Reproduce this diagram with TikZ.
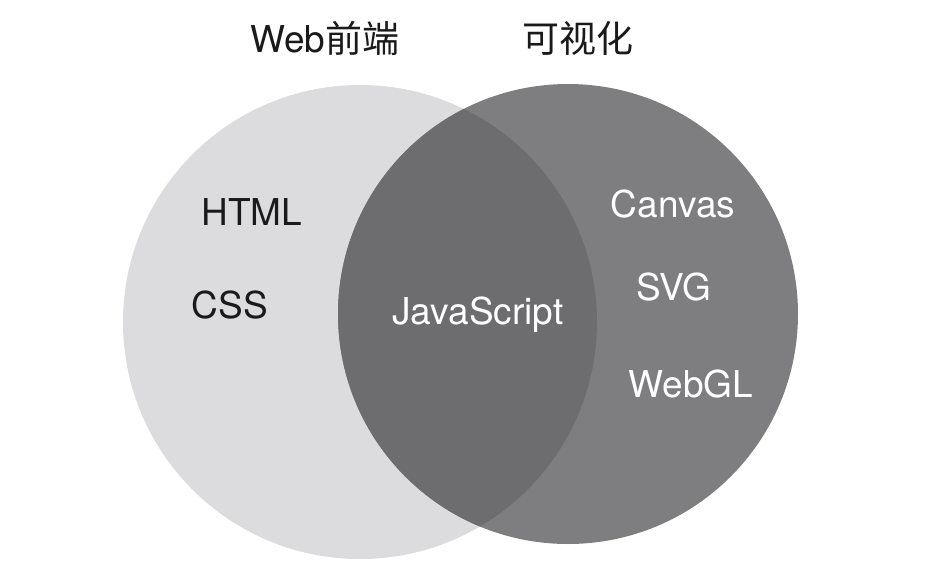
\documentclass[tikz,border=0pt]{standalone}
\usepackage{fontspec}
\setmainfont{TeX Gyre Heros}
\newfontfamily\cjkfont{Noto Sans CJK SC}
\definecolor{webgray}{HTML}{DCDCDE}
\definecolor{visgray}{HTML}{7E7E80}
\definecolor{bothgray}{HTML}{6D6D6F}
\definecolor{inkblack}{HTML}{1A1A1A}
\tikzset{
  label/.style={inner sep=0pt, outer sep=0pt, font=\fontsize{37}{40}\selectfont},
  darklabel/.style={label, text=inkblack},
  lightlabel/.style={label, text=white}
}

\begin{document}
\begin{tikzpicture}[y=1pt, x=1pt, yscale=-1, inner sep=0pt, outer sep=0pt]
  \useasboundingbox (0,0) rectangle (930,582);
  % the two sets
  \path[fill=webgray] (360,322) circle[radius=237];
  \path[fill=visgray] (568,314) circle[radius=230];
  \begin{scope}
    \clip (360,322) circle[radius=237];
    \path[fill=bothgray] (568,314) circle[radius=230];
  \end{scope}
  % titles
  \path (325,38) node[darklabel] (textWeb) {Web\cjkfont 前端};
  \path (578,38) node[darklabel] (textVis) {\cjkfont 可视化};
  % web front end
  \path (252,212) node[darklabel] (textHTML) {HTML};
  \path (230,305) node[darklabel] (textCSS) {CSS};
  % shared
  \path (478,315) node[lightlabel] (textJS) {JavaScript};
  % visualisation
  \path (673,204) node[lightlabel] (textCanvas) {Canvas};
  \path (674,287) node[lightlabel] (textSVG) {SVG};
  \path (691,384) node[lightlabel] (textWebGL) {WebGL};
\end{tikzpicture}
\end{document}
